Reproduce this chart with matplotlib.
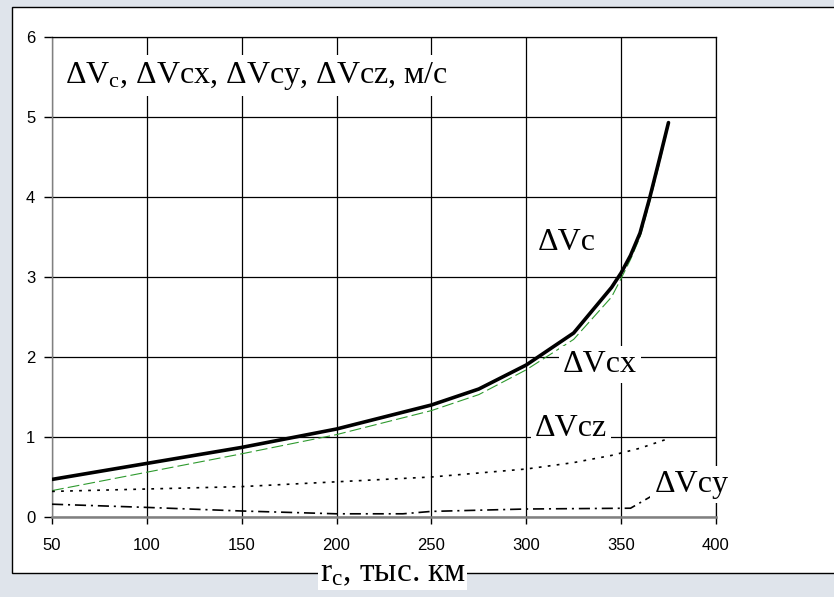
import matplotlib
matplotlib.use("Agg")
import matplotlib.pyplot as plt
from matplotlib.patches import Rectangle

# данные
r = [50, 100, 150, 200, 250, 275, 300, 325, 345, 350, 355, 360, 365, 370, 375]
dv_c = [0.47, 0.67, 0.87, 1.10, 1.40, 1.60, 1.90, 2.30, 2.87, 3.05, 3.27, 3.55, 3.98, 4.45, 4.93]
dv_cx = [0.33, 0.56, 0.79, 1.03, 1.33, 1.53, 1.84, 2.22, 2.75, 2.98, 3.22, 3.50, 3.93, 4.40, 4.90]
dv_cz = [0.32, 0.35, 0.38, 0.44, 0.50, 0.55, 0.60, 0.68, 0.77, 0.80, 0.83, 0.86, 0.90, 0.94, 0.98]
r_cy = [50, 100, 150, 200, 235, 250, 300, 355, 366, 375]
dv_cy = [0.16, 0.12, 0.075, 0.04, 0.04, 0.07, 0.10, 0.11, 0.26, 0.40]

x_ticks = [50, 100, 150, 200, 250, 300, 350, 400]
y_ticks = [0, 1, 2, 3, 4, 5, 6]

plt.rcParams['lines.scale_dashes'] = False
plt.rcParams['mathtext.fontset'] = 'custom'
plt.rcParams['mathtext.rm'] = 'Liberation Serif'
plt.rcParams['mathtext.it'] = 'Liberation Serif'

fig = plt.figure(figsize=(8.34, 5.97), dpi=100)
fig.patch.set_facecolor('#dfe4eb')
fig.patches.append(Rectangle((0.0144, 0.040), 1.0, 0.948, transform=fig.transFigure,
                             facecolor='white', edgecolor='black', linewidth=1.0, zorder=-1))

ax = fig.add_axes([0.0624, 0.134, 0.796, 0.804])
ax.set_facecolor('white')

ax.plot(r, dv_c, color='black', lw=2.6, solid_capstyle='round', zorder=4)
ax.plot(r, dv_cx, color='#2e9a2e', lw=0.8, linestyle=(0, (8.5, 3)), zorder=3)
ax.plot(r, dv_cz, color='black', lw=1.2, linestyle=(0, (2, 4.5)), zorder=3)
ax.plot(r_cy, dv_cy, color='black', lw=1.2, linestyle=(0, (8, 3.5, 1.5, 3.5)), zorder=3)

ax.set_xlim(50, 400)
ax.set_ylim(0, 6)
ax.set_xticks(x_ticks)
ax.set_yticks(y_ticks)
ax.grid(True, color='black', lw=0.9)
ax.set_axisbelow(True)

for lab in ax.get_xticklabels() + ax.get_yticklabels():
    lab.set_family('Liberation Sans')
    lab.set_fontsize(12)
ax.tick_params(axis='x', direction='out', length=5, width=1, pad=10, colors='black')
ax.tick_params(axis='y', direction='out', length=6, width=1, pad=6, colors='black')

ax.spines['left'].set_color('#808080')
ax.spines['left'].set_linewidth(1.0)
ax.spines['bottom'].set_color('#808080')
ax.spines['bottom'].set_linewidth(1.8)
for s in ['top', 'right']:
    ax.spines[s].set_color('black')
    ax.spines[s].set_linewidth(0.9)

serif = 'Liberation Serif'
box = dict(facecolor='white', edgecolor='none', pad=3)

ax.text(0.02, 0.905, r'ΔV$_\mathrm{c}$, ΔVcx, ΔVcy, ΔVcz, м/с', transform=ax.transAxes,
        family=serif, fontsize=23, ha='left', va='baseline', bbox=box, zorder=6)
ax.text(306, 3.34, 'ΔVc', family=serif, fontsize=23, ha='left', va='baseline', zorder=6)
ax.text(319.5, 1.81, 'ΔVcx', family=serif, fontsize=23, ha='left', va='baseline', bbox=box, zorder=6)
ax.text(304.5, 1.01, 'ΔVcz', family=serif, fontsize=23, ha='left', va='baseline', bbox=box, zorder=6)
ax.text(367.5, 0.31, 'ΔVcy', family=serif, fontsize=23, ha='left', va='baseline', bbox=box,
        zorder=6, clip_on=False)

fig.text(0.471, 0.040, r'r$_\mathrm{c}$, тыс. км', family=serif, fontsize=24,
         ha='center', va='center', bbox=dict(facecolor='white', edgecolor='none', pad=1), zorder=5)

fig.savefig('out.png', dpi=100, facecolor=fig.get_facecolor())
